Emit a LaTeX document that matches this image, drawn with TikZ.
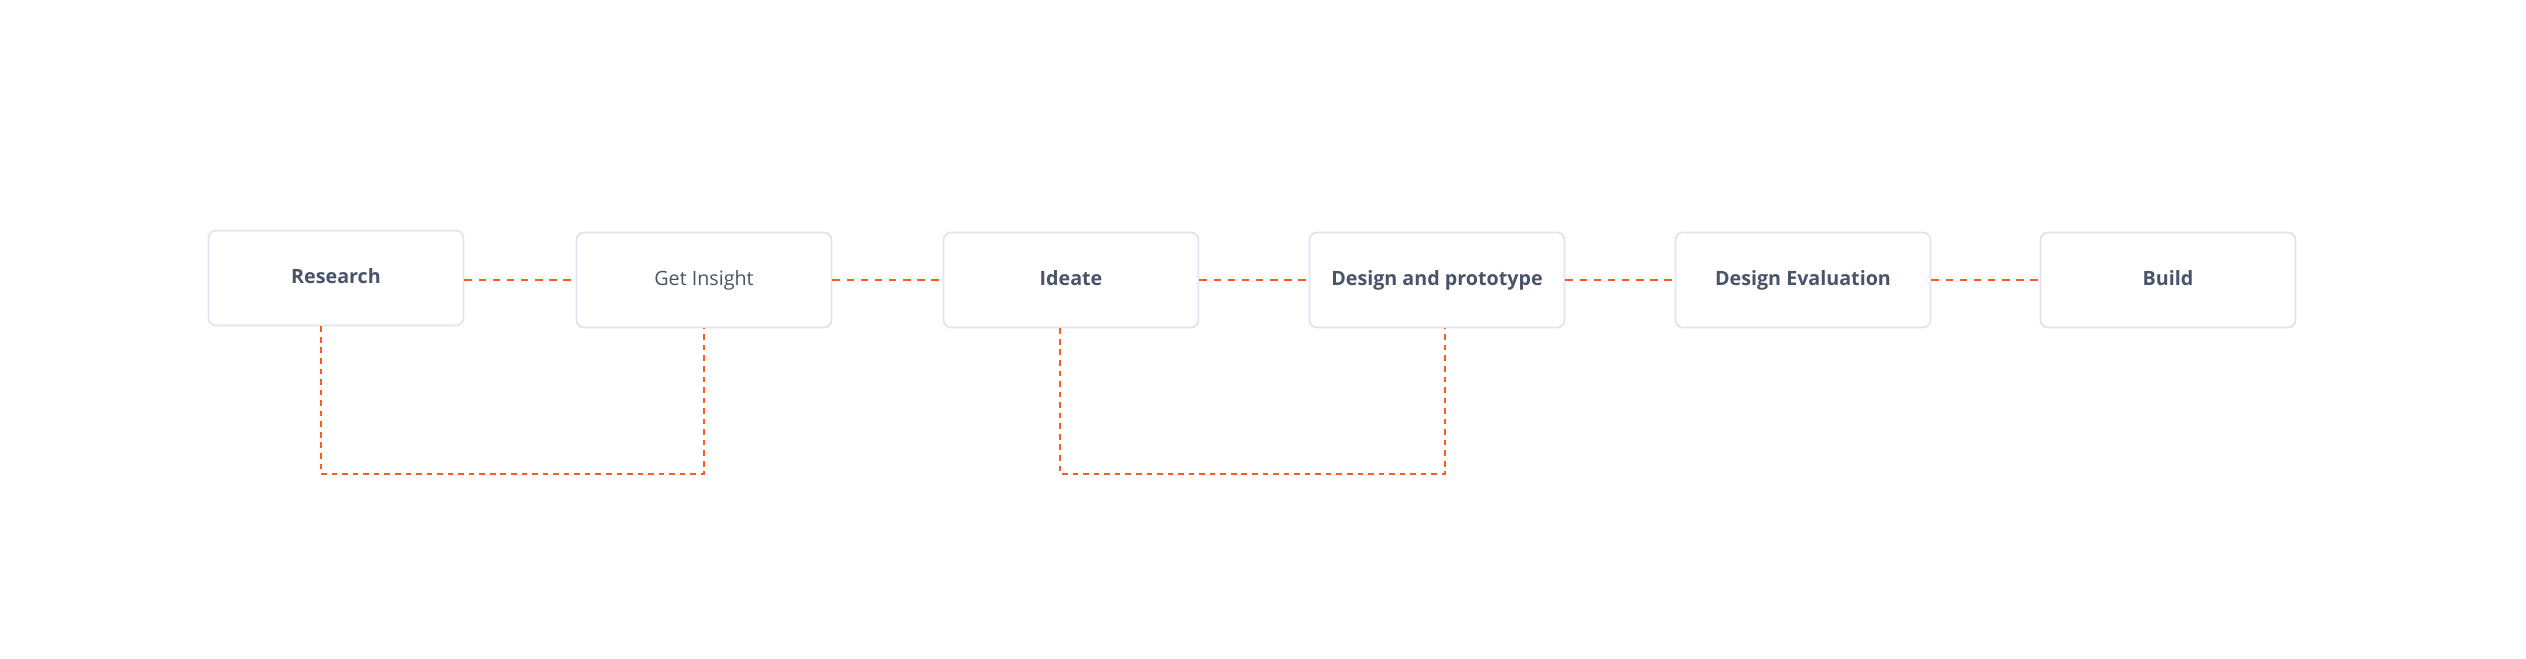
\documentclass[tikz,border=0pt]{standalone}
\usepackage{fontspec}
\setmainfont{Open Sans}
\definecolor{ora}{HTML}{FF5A1F}
\definecolor{bord}{HTML}{E2E2F4}
\definecolor{txt}{HTML}{4A5468}
\begin{document}
\begin{tikzpicture}[x=0.01cm,y=0.01cm,
  stepbox/.style={draw=bord,line width=0.5pt,rounded corners=2.2pt,fill=white,minimum width=2.55cm,minimum height=0.95cm,inner sep=0pt,text=txt,text height=4pt,text depth=1pt,font=\fontsize{5.6}{6}\selectfont\bfseries},
  hline/.style={draw=ora,line width=0.7pt,dash pattern=on 2.2pt off 1.8pt},
  vline/.style={draw=ora,line width=0.3pt,dash pattern=on 1.6pt off 1.4pt}]
\useasboundingbox (0,0) rectangle (2526,659);
\node[stepbox] (r) at (336,381) {Research};
\node[stepbox,font=\fontsize{5.6}{6}\selectfont] (g) at (704,379) {Get Insight};
\node[stepbox] (i) at (1071,379) {Ideate};
\node[stepbox] (d) at (1437,379) {Design and prototype};
\node[stepbox] (e) at (1803,379) {Design Evaluation};
\node[stepbox] (b) at (2168,379) {Build};
\draw[hline] (r.east|-0,379) -- (g.west);
\draw[hline] (g) -- (i);
\draw[hline] (i) -- (d);
\draw[hline] (d) -- (e);
\draw[hline] (e) -- (b);
\coordinate (r1) at (321,185);
\coordinate (g1) at (704,185);
\coordinate (i1) at (1060,185);
\coordinate (d1) at (1445,185);
\draw[vline] (r.south-|r1) -- (r1) -- (g1) -- (g.south);
\draw[vline] (i.south-|i1) -- (i1) -- (d1) -- (d.south-|d1);
\end{tikzpicture}
\end{document}
